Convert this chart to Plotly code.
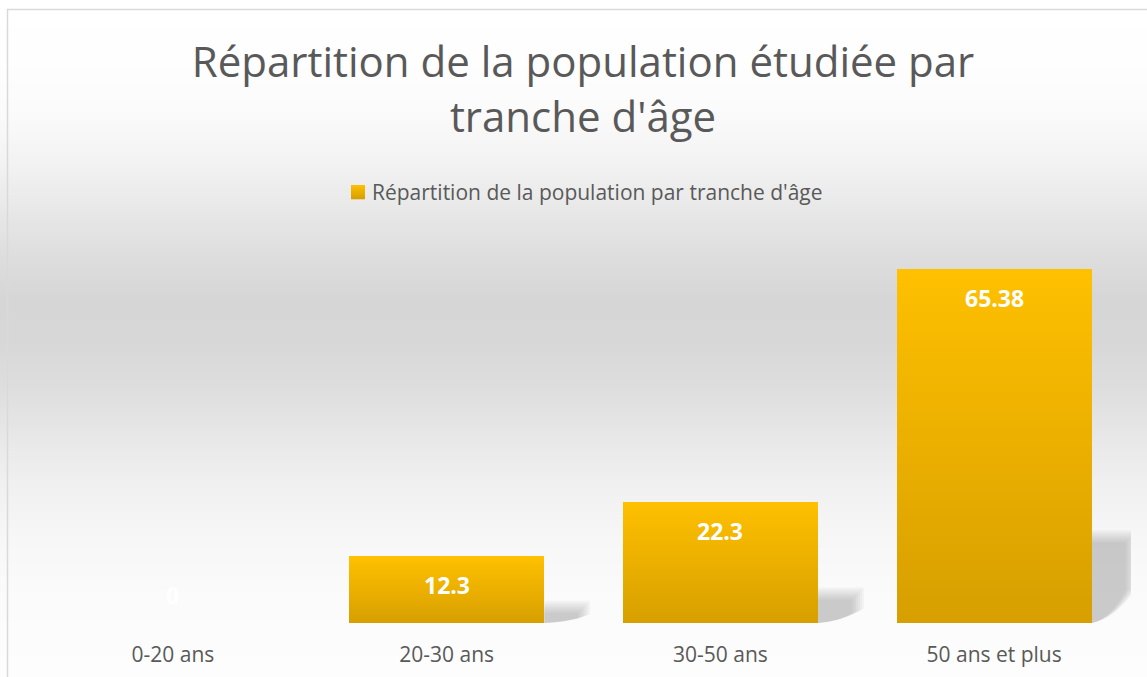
import plotly.graph_objects as go

# ---- data ----
categories = ["0-20 ans", "20-30 ans", "30-50 ans", "50 ans et plus"]
values = [0, 12.3, 22.3, 65.38]
labels = ["0", "12.3", "22.3", "65.38"]
series_name = "Répartition de la population par tranche d'âge"
title_text = "Répartition de la population étudiée par<br>tranche d'âge"

# ---- layout constants ----
W, H = 1147, 677
ML, MR, MT, MB = 36, 16, 244, 54
YMAX = 70
BARGAP = 0.287
TOP_RGB = (255, 192, 0)
BOT_RGB = (214, 159, 0)
NSEG = 40
FONT = "Open Sans"
TXT = "#595959"

plot_w = W - ML - MR
plot_h = H - MT - MB
xs = list(range(len(categories)))

def lerp(a, b, t):
    return tuple(round(a[i] + (b[i] - a[i]) * t) for i in range(3))

def px_to_paper_x(px):
    return (px - ML) / plot_w

def px_to_paper_y(py):
    return (H - MB - py) / plot_h

fig = go.Figure()

# gradient bars built as stacked slices of each bar's value
for k in range(NSEG):
    t = (k + 0.5) / NSEG  # 0 bottom -> 1 top
    c = lerp(BOT_RGB, TOP_RGB, t)
    fig.add_trace(go.Bar(
        x=xs, y=[v / NSEG for v in values],
        marker=dict(color=f"rgb{c}", line=dict(width=0)),
        name=series_name,
        showlegend=False,
        hoverinfo="skip",
    ))

shapes = []
# background gradient (paper coords)
bg_stops = [(0, 255), (60, 254), (110, 251), (160, 243), (210, 232), (260, 221),
            (300, 214), (340, 215), (390, 222), (440, 232), (490, 241), (540, 247),
            (600, 251), (677, 253)]
def bg_at(y):
    for (y0, c0), (y1, c1) in zip(bg_stops, bg_stops[1:]):
        if y0 <= y <= y1:
            t = (y - y0) / (y1 - y0)
            return round(c0 + (c1 - c0) * t)
    return bg_stops[-1][1]

step = 4
for yy in range(0, H, step):
    g = bg_at(yy + step / 2)
    shapes.append(dict(type="rect", xref="paper", yref="paper", layer="below",
                       x0=px_to_paper_x(-5), x1=px_to_paper_x(W + 5),
                       y0=px_to_paper_y(yy + step + 0.5), y1=px_to_paper_y(yy - 0.5),
                       fillcolor=f"rgb({g},{g},{g})", line=dict(width=0)))

# chart border
shapes.append(dict(type="rect", xref="paper", yref="paper", layer="above",
                   x0=px_to_paper_x(7.5), x1=px_to_paper_x(W + 20),
                   y0=px_to_paper_y(H + 20), y1=px_to_paper_y(9.5),
                   fillcolor="rgba(0,0,0,0)", line=dict(color="#d9d9d9", width=1.5)))

# soft shadows to the right of each bar
half = (1 - BARGAP) / 2
unit_per_px_x = len(categories) / plot_w
unit_per_px_y = YMAX / plot_h
for i, v in zip(xs, values):
    if v <= 0:
        continue
    h = v * 0.245
    for grow in (-6, -4, -2, 0, 2, 4, 6):
        sw = (40 + grow) * unit_per_px_x
        hh = h + grow * unit_per_px_y
        x0 = i + half
        path = (f"M {x0},0 L {x0},{hh} L {x0 + sw},{hh} "
                f"L {x0 + sw},{hh * 0.4} Q {x0 + sw * 0.55},{hh * 0.05} {x0},0 Z")
        shapes.append(dict(type="path", xref="x", yref="y", layer="below",
                           path=path, fillcolor="rgba(110,110,110,0.055)",
                           line=dict(width=0)))

# manual legend: gradient square + text
sq_x0, sq_x1, sq_y0, sq_y1 = 351, 365, 185, 199
nsq = 7
for k in range(nsq):
    c = lerp(TOP_RGB, BOT_RGB, (k + 0.5) / nsq)
    ya = sq_y0 + (sq_y1 - sq_y0) * k / nsq
    yb = sq_y0 + (sq_y1 - sq_y0) * (k + 1) / nsq
    shapes.append(dict(type="rect", xref="paper", yref="paper", layer="above",
                       x0=px_to_paper_x(sq_x0), x1=px_to_paper_x(sq_x1),
                       y0=px_to_paper_y(yb + 0.3), y1=px_to_paper_y(ya),
                       fillcolor=f"rgb{c}", line=dict(width=0)))

annotations = [dict(x=px_to_paper_x(370), y=px_to_paper_y(192), xref="paper", yref="paper",
                    xanchor="left", yanchor="middle", text=series_name, showarrow=False,
                    font=dict(family=FONT, size=21, color=TXT))]

# data labels (inside end)
for i, v, lab in zip(xs, values, labels):
    annotations.append(dict(x=i, y=v, xref="x", yref="y", text=lab, showarrow=False,
                            yanchor="middle", yshift=(-29 if v > 0 else 28),
                            font=dict(family=FONT, size=23, color="white",
                                      weight="bold")))

fig.update_layout(
    width=W, height=H,
    margin=dict(l=ML, r=MR, t=MT, b=MB, pad=0, autoexpand=False),
    barmode="stack",
    bargap=BARGAP,
    paper_bgcolor="white",
    plot_bgcolor="rgba(0,0,0,0)",
    showlegend=False,
    title=dict(text=title_text, x=583 / W, xanchor="center", y=1 - 77 / H, yanchor="top",
               font=dict(family=FONT, size=42, color=TXT)),
    xaxis=dict(tickmode="array", tickvals=xs, ticktext=categories,
               range=[-0.5, len(categories) - 0.5], automargin=False,
               showgrid=False, zeroline=False, showline=False, ticks="",
               ticklabelstandoff=17,
               tickfont=dict(family=FONT, size=21, color=TXT)),
    yaxis=dict(range=[0, YMAX], visible=False, showgrid=False, zeroline=False,
               automargin=False),
    shapes=shapes,
    annotations=annotations,
    hovermode=False,
)

fig.write_html("out.html", config={"displayModeBar": False},
               post_script="document.body.style.margin='0';document.body.style.overflow='hidden';")
